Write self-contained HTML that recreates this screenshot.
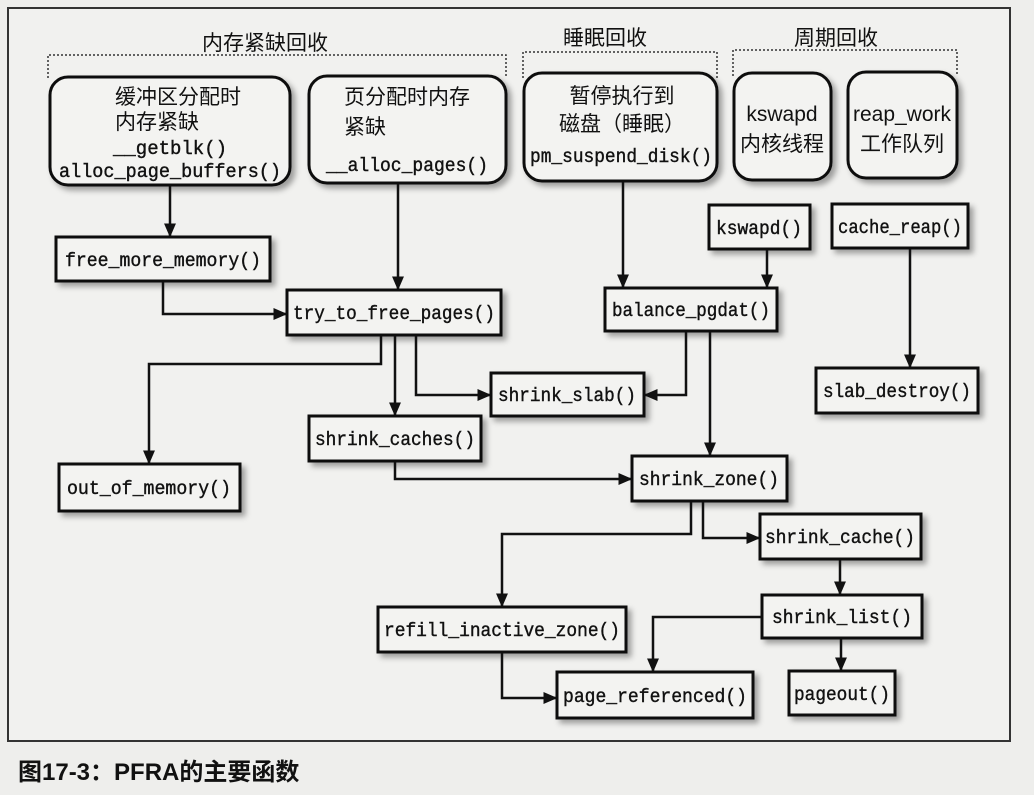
<!DOCTYPE html>
<html><head><meta charset="utf-8"><style>
html,body{margin:0;padding:0;background:#eeeeec;}
svg{display:block}
.m{font-family:"Liberation Mono","DejaVu Sans Mono",monospace;font-size:19px;fill:#111;stroke:#111;stroke-width:0.4}
.c{font-family:"Liberation Sans","Noto Sans CJK SC",sans-serif;font-size:21px;fill:#111}
</style></head><body>
<svg width="1034" height="795" viewBox="0 0 1034 795" xmlns="http://www.w3.org/2000/svg">
<defs>
<marker id="a" viewBox="0 0 10 10" refX="9" refY="5" markerWidth="14" markerHeight="12" orient="auto" markerUnits="userSpaceOnUse" preserveAspectRatio="none"><path d="M0,0 L10,5 L0,10 z" fill="#111"/></marker>
<filter id="s" x="-10%" y="-10%" width="130%" height="130%"><feDropShadow dx="4" dy="4" stdDeviation="3" flood-color="#000" flood-opacity="0.35"/></filter>
</defs>
<rect x="0" y="0" width="1034" height="795" fill="#eeeeec"/>
<rect x="8" y="8" width="1002" height="733" fill="#f1f1ef" stroke="#333" stroke-width="2"/>
<text class="c" x="265" y="50" text-anchor="middle" font-size="22">内存紧缺回收</text>
<text class="c" x="605" y="45" text-anchor="middle" font-size="22">睡眠回收</text>
<text class="c" x="836" y="45" text-anchor="middle" font-size="22">周期回收</text>
<g fill="none" stroke="#333" stroke-width="1.5" stroke-dasharray="2,2">
<path d="M48,78 V55 H506 V78"/><path d="M523,78 V52 H717 V78"/><path d="M733,76 V50 H957 V76"/>
</g>
<g fill="#f3f3f1" stroke="#111" stroke-width="3" filter="url(#s)">
<rect x="50" y="77" width="240" height="108" rx="18"/>
<rect x="309" y="76" width="197" height="107" rx="18"/>
<rect x="524" y="73" width="193" height="108" rx="18"/>
<rect x="734" y="73" width="97" height="107" rx="18"/>
<rect x="848" y="72" width="109" height="106" rx="18"/>
<rect x="56" y="237" width="214" height="44"/>
<rect x="287" y="290" width="214" height="45"/>
<rect x="709" y="205" width="101" height="44"/>
<rect x="832" y="204" width="136" height="44"/>
<rect x="605" y="288" width="172" height="43"/>
<rect x="816" y="368" width="162" height="45"/>
<rect x="491" y="373" width="153" height="43"/>
<rect x="309" y="416" width="172" height="45"/>
<rect x="59" y="464" width="181" height="47"/>
<rect x="632" y="456" width="155" height="45"/>
<rect x="760" y="514" width="161" height="45"/>
<rect x="762" y="595" width="160" height="43"/>
<rect x="378" y="607" width="248" height="45"/>
<rect x="557" y="672" width="196" height="46"/>
<rect x="789" y="671" width="106" height="44"/>
</g>
<text class="c" x="115" y="104">缓冲区分配时</text>
<text class="c" x="115" y="129">内存紧缺</text>
<text class="m" x="170" y="154" text-anchor="middle">__getblk()</text>
<text class="m" x="170" y="177" text-anchor="middle" textLength="222" lengthAdjust="spacingAndGlyphs">alloc_page_buffers()</text>
<text class="c" x="344" y="104">页分配时内存</text>
<text class="c" x="344" y="134">紧缺</text>
<text class="m" x="407" y="171" text-anchor="middle" textLength="162" lengthAdjust="spacingAndGlyphs">__alloc_pages()</text>
<text class="c" x="622" y="103" text-anchor="middle">暂停执行到</text>
<text class="c" x="622" y="131" text-anchor="middle">磁盘（睡眠）</text>
<text class="m" x="621" y="162" text-anchor="middle" textLength="182" lengthAdjust="spacingAndGlyphs">pm_suspend_disk()</text>
<text class="c" x="782" y="121" text-anchor="middle" font-size="18">kswapd</text>
<text class="c" x="782" y="151" text-anchor="middle">内核线程</text>
<text class="c" x="902" y="121" text-anchor="middle" font-size="18">reap_work</text>
<text class="c" x="902" y="151" text-anchor="middle">工作队列</text>
<g class="m" text-anchor="middle">
<text x="163" y="266" textLength="196" lengthAdjust="spacingAndGlyphs">free_more_memory()</text>
<text x="394" y="319" textLength="202" lengthAdjust="spacingAndGlyphs">try_to_free_pages()</text>
<text x="759" y="234" textLength="86" lengthAdjust="spacingAndGlyphs">kswapd()</text>
<text x="900" y="233" textLength="124" lengthAdjust="spacingAndGlyphs">cache_reap()</text>
<text x="691" y="316" textLength="158" lengthAdjust="spacingAndGlyphs">balance_pgdat()</text>
<text x="897" y="397" textLength="148" lengthAdjust="spacingAndGlyphs">slab_destroy()</text>
<text x="567" y="401" textLength="138" lengthAdjust="spacingAndGlyphs">shrink_slab()</text>
<text x="395" y="445" textLength="160" lengthAdjust="spacingAndGlyphs">shrink_caches()</text>
<text x="149" y="494" textLength="164" lengthAdjust="spacingAndGlyphs">out_of_memory()</text>
<text x="709" y="485" textLength="140" lengthAdjust="spacingAndGlyphs">shrink_zone()</text>
<text x="840" y="543" textLength="150" lengthAdjust="spacingAndGlyphs">shrink_cache()</text>
<text x="842" y="623" textLength="140" lengthAdjust="spacingAndGlyphs">shrink_list()</text>
<text x="502" y="636" textLength="236" lengthAdjust="spacingAndGlyphs">refill_inactive_zone()</text>
<text x="655" y="702" textLength="184" lengthAdjust="spacingAndGlyphs">page_referenced()</text>
<text x="842" y="700" textLength="96" lengthAdjust="spacingAndGlyphs">pageout()</text>
</g>
<g fill="none" stroke="#111" stroke-width="2.5" marker-end="url(#a)">
<path d="M170,186 V236"/>
<path d="M398,184 V289"/>
<path d="M163,282 V314 H286"/>
<path d="M381,336 V364 H149 V463"/>
<path d="M395,336 V415"/>
<path d="M416,336 V395 H490"/>
<path d="M623,182 V287"/>
<path d="M767,250 V287"/>
<path d="M686,332 V395 H645"/>
<path d="M710,332 V455"/>
<path d="M910,249 V367"/>
<path d="M395,462 V479 H631"/>
<path d="M691,502 V534 H502 V606"/>
<path d="M703,502 V538 H759"/>
<path d="M840,560 V594"/>
<path d="M761,617 H653 V671"/>
<path d="M841,639 V670"/>
<path d="M502,653 V698 H556"/>
</g>
<text x="18" y="780" font-family="Liberation Sans,'Noto Sans CJK SC',sans-serif" font-size="24" font-weight="bold" fill="#111">图17-3：PFRA的主要函数</text>
</svg>
</body></html>
